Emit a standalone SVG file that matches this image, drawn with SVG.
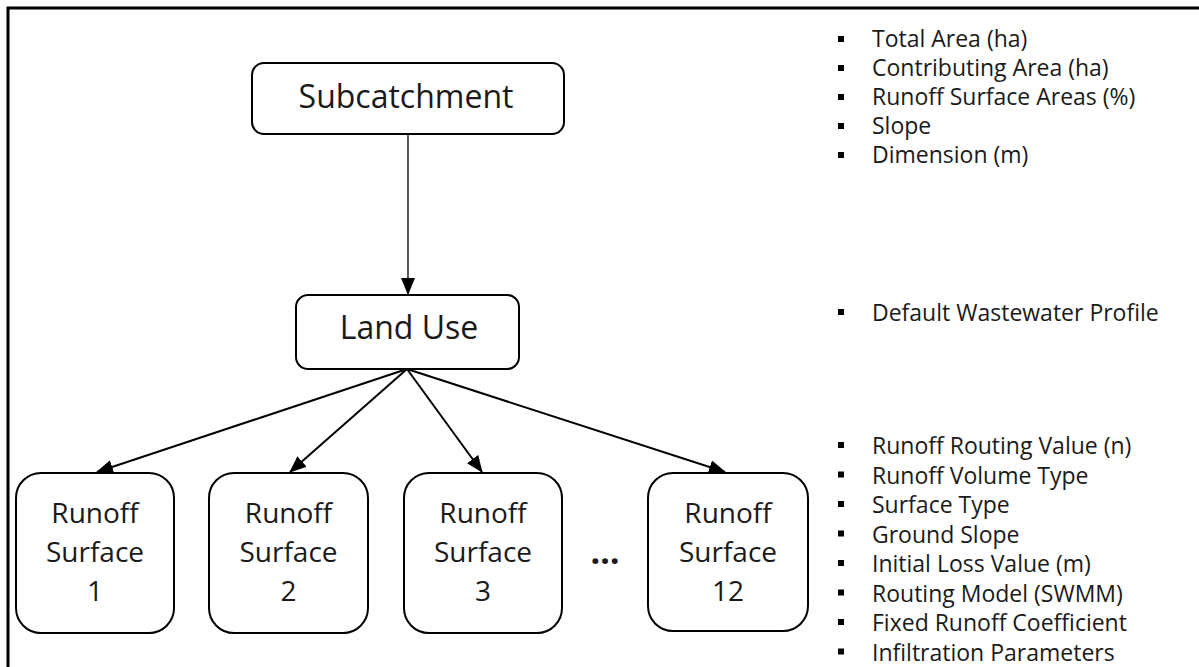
<svg xmlns="http://www.w3.org/2000/svg" width="1199" height="667" viewBox="0 0 1199 667">
  <style>
    .box { fill: #ffffff; stroke: #000000; stroke-width: 2; }
    .lbl { font-family: "Open Sans", "Liberation Sans", sans-serif; fill: #1a1a1a; text-anchor: middle; }
    .big { font-size: 32px; }
    .mid { font-size: 28px; }
    .item { font-family: "Open Sans", "Liberation Sans", sans-serif; font-size: 23px; fill: #1a1a1a; }
    .edge { stroke: #000000; stroke-width: 2; fill: none; marker-end: url(#head); }
  </style>
  <defs>
    <marker id="head" markerWidth="17" markerHeight="14" refX="16" refY="7" orient="auto" markerUnits="userSpaceOnUse">
      <path d="M0,0 L17,7 L0,14 Z" fill="#000000"/>
    </marker>
    <rect id="bullet" width="6" height="6" fill="#000000"/>
  </defs>

  <rect width="1199" height="667" fill="#ffffff"/>
  <!-- outer frame, open towards the right and bottom edges -->
  <rect x="8" y="8" width="1400" height="900" fill="none" stroke="#000000" stroke-width="3"/>

  <g id="connectors">
    <line class="edge" x1="408" y1="134" x2="408" y2="294" style="stroke-width:1.3"/>
    <line class="edge" x1="407" y1="369" x2="97" y2="472"/>
    <line class="edge" x1="407" y1="369" x2="290" y2="472"/>
    <line class="edge" x1="407" y1="369" x2="482" y2="472"/>
    <line class="edge" x1="407" y1="369" x2="725" y2="472"/>
  </g>

  <g id="subcatchment">
    <rect class="box" x="252" y="63" width="312" height="71" rx="12"/>
    <text class="lbl big" x="406" y="108">Subcatchment</text>
  </g>

  <g id="land-use">
    <rect class="box" x="296" y="295" width="223" height="74" rx="12"/>
    <text class="lbl big" x="409" y="339">Land Use</text>
  </g>

  <g id="surface-1">
    <rect class="box" x="16" y="473" width="158" height="160" rx="25"/>
    <text class="lbl mid" x="95" y="523">Runoff</text>
    <text class="lbl mid" x="95" y="562">Surface</text>
    <text class="lbl mid" x="95" y="601">1</text>
  </g>

  <g id="surface-2">
    <rect class="box" x="209" y="473" width="159" height="160" rx="25"/>
    <text class="lbl mid" x="288.5" y="523">Runoff</text>
    <text class="lbl mid" x="288.5" y="562">Surface</text>
    <text class="lbl mid" x="288.5" y="601">2</text>
  </g>

  <g id="surface-3">
    <rect class="box" x="404" y="473" width="158" height="160" rx="25"/>
    <text class="lbl mid" x="483" y="523">Runoff</text>
    <text class="lbl mid" x="483" y="562">Surface</text>
    <text class="lbl mid" x="483" y="601">3</text>
  </g>

  <g id="ellipsis">
    <text class="lbl" x="605" y="564" style="font-size:34px;font-weight:bold">…</text>
  </g>

  <g id="surface-12">
    <rect class="box" x="648" y="473" width="160" height="158" rx="25"/>
    <text class="lbl mid" x="728" y="523">Runoff</text>
    <text class="lbl mid" x="728" y="562">Surface</text>
    <text class="lbl mid" x="728" y="601">12</text>
  </g>

  <g id="subcatchment-attributes">
    <use href="#bullet" x="838" y="36"/>
    <text class="item" x="872" y="47">Total Area (ha)</text>
    <use href="#bullet" x="838" y="65"/>
    <text class="item" x="872" y="76">Contributing Area (ha)</text>
    <use href="#bullet" x="838" y="94"/>
    <text class="item" x="872" y="105">Runoff Surface Areas (%)</text>
    <use href="#bullet" x="838" y="123"/>
    <text class="item" x="872" y="134">Slope</text>
    <use href="#bullet" x="838" y="152"/>
    <text class="item" x="872" y="163">Dimension (m)</text>
  </g>

  <g id="land-use-attributes">
    <use href="#bullet" x="838" y="309"/>
    <text class="item" x="872" y="321">Default Wastewater Profile</text>
  </g>

  <g id="surface-attributes">
    <use href="#bullet" x="838" y="442"/>
    <text class="item" x="872" y="454">Runoff Routing Value (n)</text>
    <use href="#bullet" x="838" y="471.5"/>
    <text class="item" x="872" y="483.5">Runoff Volume Type</text>
    <use href="#bullet" x="838" y="501"/>
    <text class="item" x="872" y="513">Surface Type</text>
    <use href="#bullet" x="838" y="530.5"/>
    <text class="item" x="872" y="542.5">Ground Slope</text>
    <use href="#bullet" x="838" y="560"/>
    <text class="item" x="872" y="572">Initial Loss Value (m)</text>
    <use href="#bullet" x="838" y="589.5"/>
    <text class="item" x="872" y="601.5">Routing Model (SWMM)</text>
    <use href="#bullet" x="838" y="619"/>
    <text class="item" x="872" y="631">Fixed Runoff Coefficient</text>
    <use href="#bullet" x="838" y="648.5"/>
    <text class="item" x="872" y="660.5">Infiltration Parameters</text>
  </g>
</svg>
